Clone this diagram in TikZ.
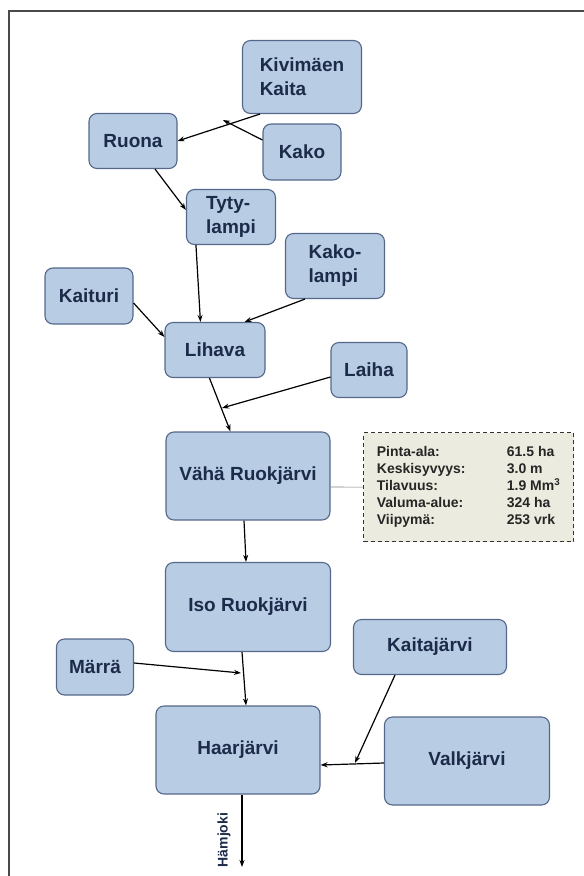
\documentclass[tikz,border=0pt]{standalone}
\usepackage{fontspec}
\setmainfont{Liberation Sans}
\usetikzlibrary{arrows.meta,calc}
\definecolor{LakeClr}{HTML}{B8CCE4}
\definecolor{EdgeClr}{HTML}{55688A}
\definecolor{TextClr}{HTML}{1C2B4A}
\definecolor{InfoClr}{HTML}{ECEBDF}
\definecolor{FrameClr}{HTML}{4A4A4A}

\begin{document}
\begin{tikzpicture}[x=1pt,y=-1pt,
  lake/.style n args={2}{draw=EdgeClr,line width=1.1pt,fill=LakeClr,rounded corners=8pt,
    text=TextClr,font=\fontsize{19}{24}\selectfont\bfseries,align=left,inner sep=0pt,
    minimum width=#1pt,minimum height=#2pt},
  flow/.style={line width=1.2pt,-{Stealth[length=7pt,width=5pt]}},
  infobox/.style={draw=black!80,dash pattern=on 4pt off 3pt,line width=1.2pt,fill=InfoClr,
    font=\fontsize{14}{16.7}\selectfont\bfseries,text=black!85,inner xsep=9pt,
    minimum height=109pt,minimum width=210pt,anchor=north west}]
\useasboundingbox (0,0) rectangle (584,876);

% Frame round the whole drawing.
\draw[FrameClr,line width=1.8pt] (9,11) rectangle (600,900);

% Define the lakes.
\node[lake={119}{73}] (kivi) at (302,77) {Kivimäen\\Kaita};
\node[lake={88}{55}] (ruona) at (133,141) {Ruona};
\node[lake={78}{56}] (kako) at (302,152) {Kako};
\node[lake={89}{55}] (tyty) at (231,217) {Tyty-\\lampi};
\node[lake={99}{65}] (kakol) at (335,266) {Kako-\\lampi};
\node[lake={88}{56}] (kaituri) at (89,296) {Kaituri};
\node[lake={100}{55}] (lihava) at (215,350) {Lihava};
\node[lake={76}{55}] (laiha) at (369,370) {Laiha};
\node[lake={164}{88}] (vaha) at (248,476) {Vähä Ruokjärvi};
\node[lake={165}{89}] (iso) at (248,607) {Iso Ruokjärvi};
\node[lake={77}{56}] (marra) at (95,667) {Märrä};
\node[lake={153}{55}] (kaita) at (430,647) {Kaitajärvi};
\node[lake={164}{88}] (haar) at (238,750) {Haarjärvi};
\node[lake={165}{88}] (valk) at (467,761) {Valkjärvi};

% Data of Vähä Ruokjärvi.
\node[infobox] (info) at (363,432) {%
  \begin{tabular}{@{}p{130pt}@{}l@{}}
  Pinta-ala: & 61.5 ha\\
  Keskisyvyys: & 3.0 m\\
  Tilavuus: & 1.9 Mm\textsuperscript{3}\\
  Valuma-alue: & 324 ha\\
  Viipymä: & 253 vrk
  \end{tabular}};
\draw[black!50,line width=0.6pt] ($(vaha.east)+(0,11)$) -- (info.west);

% Points where a stream joins another one.
\coordinate (j1) at (223,120);
\coordinate (j2) at (222,408);
\coordinate (j3) at (241,673);
\coordinate (j4) at (355,763);
\coordinate (out) at (242,867);

% Draw the streams.
\draw[flow] ($(kivi.south west)+(18,0)$) -- (ruona.east);
\draw[flow] ($(kako.west)+(0,-12)$) -- (j1);
\draw[flow] ($(ruona.south)+(22,0)$) -- ($(tyty.north west)+(0,21)$);
\draw[flow] ($(tyty.south west)+(10,0)$) -- ($(lihava.north west)+(36,0)$);
\draw[flow] ($(kakol.south)+(-30,0)$) -- ($(lihava.north east)+(-21,0)$);
\draw[flow] ($(kaituri.east)+(0,7)$) -- ($(lihava.west)+(0,-13)$);
\draw[flow] ($(lihava.south west)+(45,0)$) -- ($(vaha.north west)+(65,0)$);
\draw[flow] ($(laiha.west)+(0,7)$) -- (j2);
\draw[flow] ($(vaha.south)+(-4,0)$) -- ($(iso.north)+(-2,0)$);
\draw[flow] ($(iso.south)+(-6,0)$) -- ($(haar.north)+(8,0)$);
\draw[flow] ($(marra.east)+(0,-4)$) -- (j3);
\draw[flow] ($(kaita.south)+(-35,0)$) -- (j4);
\draw[flow] ($(valk.west)+(0,2)$) -- ($(haar.east)+(0,15)$);
\draw[flow] ($(haar.south)+(4,0)$) -- (out);

\node[rotate=90,text=TextClr,font=\fontsize{14}{16}\selectfont\bfseries] (hamjoki) at (224,840) {Hämjoki};

\end{tikzpicture}
\end{document}
